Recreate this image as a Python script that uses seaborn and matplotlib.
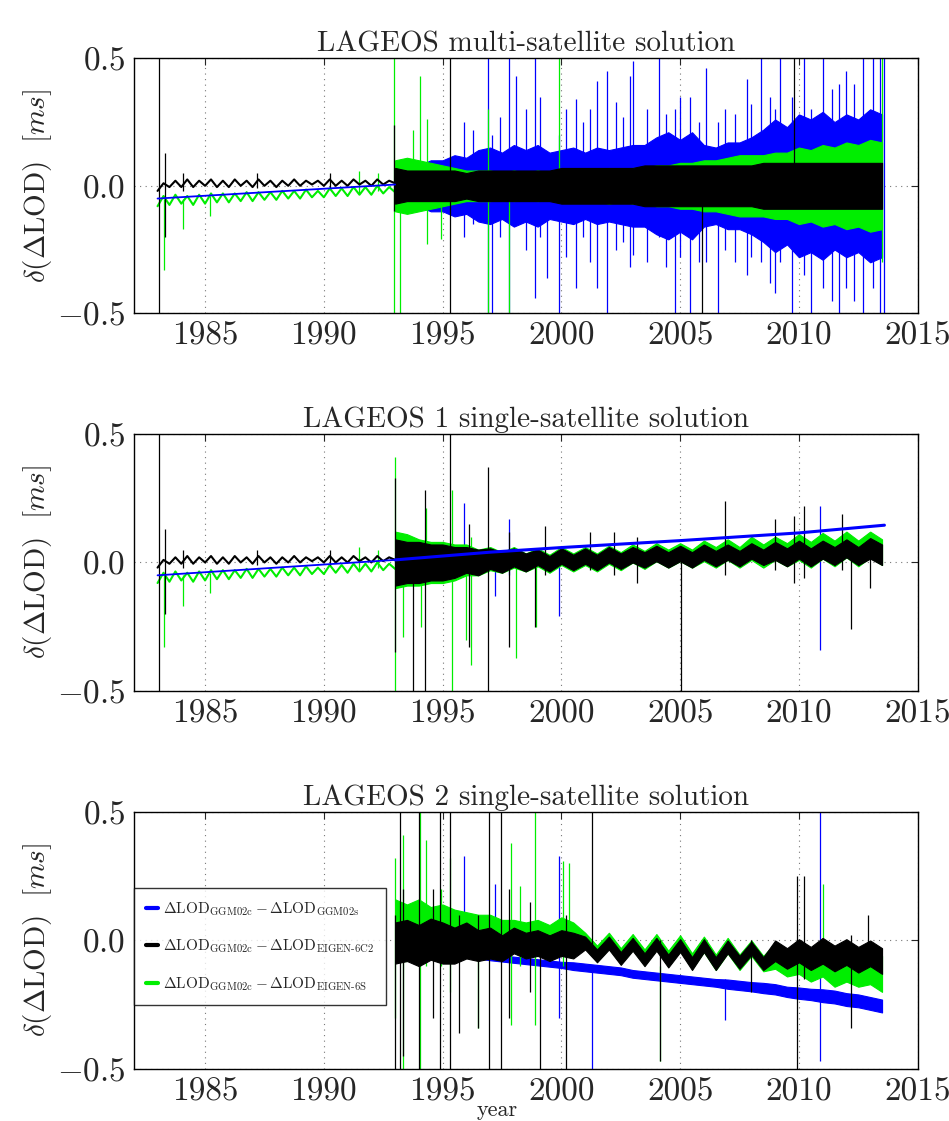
import numpy as np
import seaborn as sns
import matplotlib.pyplot as plt
from matplotlib.lines import Line2D

# ---------------- data ----------------
year_ticks = [1985, 1990, 1995, 2000, 2005, 2010, 2015]
lod_ticks = [-0.5, 0.0, 0.5]
lod_tick_labels = [r"$-0.5$", r"$0.0$", r"$0.5$"]

titles = ["LAGEOS multi-satellite solution",
          "LAGEOS 1 single-satellite solution",
          "LAGEOS 2 single-satellite solution"]

series_labels = [
    r"$\Delta\mathrm{LOD}_{\mathrm{GGM02c}} - \Delta\mathrm{LOD}_{\mathrm{GGM02s}}$",
    r"$\Delta\mathrm{LOD}_{\mathrm{GGM02c}} - \Delta\mathrm{LOD}_{\text{EIGEN-6C2}}$",
    r"$\Delta\mathrm{LOD}_{\mathrm{GGM02c}} - \Delta\mathrm{LOD}_{\text{EIGEN-6S}}$",
]

# 1983-1993 part (LAGEOS 1 only), same in panels 1 and 2
t_early = np.arange(1983.0, 1993.01, 0.25)
early_black = [-0.02, 0.01, -0.005, 0.02, -0.005, 0.025, -0.005, 0.02, 0.0, 0.025,
               -0.005, 0.02, -0.005, 0.025, 0.0, 0.02, -0.005, 0.025, 0.0, 0.02,
               -0.005, 0.02, 0.0, 0.025, 0.0, 0.02, 0.005, 0.02, 0.0, 0.025,
               0.0, 0.02, 0.0, 0.025, 0.005, 0.02, 0.0, 0.025, 0.005, 0.02, 0.01]
early_green = [-0.08, -0.04, -0.075, -0.035, -0.07, -0.04, -0.075, -0.035, -0.07, -0.03,
               -0.065, -0.03, -0.065, -0.03, -0.06, -0.025, -0.06, -0.025, -0.055, -0.025,
               -0.055, -0.02, -0.05, -0.02, -0.05, -0.015, -0.045, -0.02, -0.045, -0.01,
               -0.04, -0.01, -0.04, -0.005, -0.035, -0.005, -0.035, 0.0, -0.03, -0.005, -0.025]
early_black_spikes = [(1983.08, -0.5, 0.5), (1983.3, -0.2, 0.13), (1984.06, -0.02, 0.05),
                      (1987.2, -0.01, 0.05), (1990.25, -0.01, 0.05)]
early_green_spikes = [(1983.25, -0.33, -0.05), (1984.06, -0.17, -0.05), (1985.2, -0.12, -0.04),
                      (1991.5, -0.03, 0.06), (1992.3, -0.02, 0.05)]

# 1993-2013.5 part, half-year grid
t_late = np.arange(1993.0, 2013.51, 0.5)

# panel 1: multi-satellite, all bands centred on zero (half widths)
p1_blue_amp = [0.05, 0.06, 0.08, 0.1, 0.1, 0.12, 0.11, 0.14, 0.15, 0.13, 0.16, 0.14, 0.16, 0.13,
               0.14, 0.15, 0.13, 0.15, 0.14, 0.15, 0.16, 0.16, 0.19, 0.21, 0.18, 0.21, 0.16, 0.15,
               0.17, 0.17, 0.19, 0.22, 0.26, 0.23, 0.28, 0.26, 0.29, 0.25, 0.28, 0.26, 0.3, 0.28]
p1_green_amp = [0.1, 0.11, 0.1, 0.09, 0.08, 0.07, 0.06, 0.06, 0.06, 0.05, 0.06, 0.05, 0.06, 0.05,
                0.06, 0.06, 0.06, 0.06, 0.07, 0.06, 0.07, 0.07, 0.08, 0.08, 0.09, 0.09, 0.1, 0.1,
                0.11, 0.12, 0.12, 0.12, 0.13, 0.13, 0.15, 0.14, 0.16, 0.15, 0.17, 0.16, 0.18, 0.17]
p1_black_amp = [0.07, 0.06, 0.06, 0.06, 0.06, 0.06, 0.05, 0.06, 0.06, 0.06, 0.06, 0.06, 0.06, 0.06,
                0.07, 0.07, 0.07, 0.07, 0.07, 0.07, 0.07, 0.08, 0.08, 0.08, 0.08, 0.08, 0.08, 0.08,
                0.08, 0.08, 0.08, 0.09, 0.09, 0.09, 0.09, 0.09, 0.09, 0.09, 0.09, 0.09, 0.09, 0.09]
p1_blue_trend_t = [1983.0, 1993.0]
p1_blue_trend = [-0.05, 0.005]
p1_blue_spikes = [(1995.9, -0.2, 0.25), (1996.3, -0.15, 0.22), (1996.9, -0.5, 0.5), (1997.1, -0.5, 0.2),
                  (1997.4, -0.2, 0.27), (1997.8, -0.5, 0.5), (1998.1, -0.1, 0.43), (1998.5, -0.25, 0.3),
                  (1998.9, -0.44, 0.5), (1999.1, -0.2, 0.35), (1999.4, -0.36, 0.1), (1999.9, -0.5, 0.2),
                  (2000.2, -0.28, 0.3), (2000.6, -0.4, 0.34), (2000.9, -0.2, 0.25), (2001.2, -0.3, 0.3),
                  (2001.5, -0.4, 0.41), (2001.9, -0.5, 0.45), (2002.3, -0.25, 0.33), (2002.6, -0.22, 0.27),
                  (2002.9, -0.32, 0.43), (2003.0, -0.27, 0.49), (2003.6, -0.3, 0.3), (2004.1, -0.2, 0.5),
                  (2004.4, -0.32, 0.28), (2004.8, -0.5, 0.3), (2005.0, -0.28, 0.35), (2005.4, -0.5, 0.35),
                  (2005.8, -0.3, 0.25), (2006.1, -0.3, 0.46), (2006.6, -0.5, 0.25), (2006.9, -0.25, 0.3),
                  (2007.3, -0.3, 0.28), (2007.8, -0.35, 0.42), (2008.0, -0.28, 0.32), (2008.4, -0.3, 0.5),
                  (2008.8, -0.38, 0.35), (2009.0, -0.42, 0.3), (2009.2, -0.3, 0.5), (2009.7, -0.5, 0.35),
                  (2010.2, -0.35, 0.5), (2010.5, -0.5, 0.3), (2011.0, -0.4, 0.5), (2011.4, -0.45, 0.38),
                  (2011.7, -0.5, 0.4), (2012.0, -0.4, 0.45), (2012.3, -0.45, 0.4), (2012.7, -0.5, 0.5),
                  (2013.1, -0.4, 0.5), (2013.4, -0.5, 0.5), (2013.6, -0.5, 0.5)]
p1_green_spikes = [(1992.94, -0.5, 0.5), (1993.2, -0.5, 0.0), (1993.74, -0.05, 0.22), (1994.04, -0.05, 0.43),
                   (1994.33, -0.23, 0.26), (1994.92, -0.21, 0.05), (1996.9, -0.5, 0.3), (1997.8, -0.5, 0.0),
                   (1999.9, 0.0, 0.5), (2013.5, -0.3, 0.5)]
p1_black_spikes = [(1992.95, -0.1, 0.24), (1995.3, -0.5, 0.5), (2005.9, -0.5, 0.0), (2009.8, 0.0, 0.5)]

# panel 2: LAGEOS 1, band centres and half widths
p2_black_mid = [0.0, 0.0, 0.0, 0.0, 0.0, 0.0, 0.01, 0.0, 0.015, 0.0, 0.02, 0.0, 0.02, -0.005,
                0.025, 0.0, 0.025, 0.0, 0.03, 0.005, 0.03, 0.01, 0.035, 0.01, 0.035, 0.01, 0.04, 0.015,
                0.04, 0.015, 0.045, 0.02, 0.045, 0.02, 0.05, 0.02, 0.05, 0.025, 0.055, 0.025, 0.055, 0.03]
p2_black_amp = [0.09, 0.08, 0.08, 0.07, 0.07, 0.06, 0.05, 0.05, 0.04, 0.04, 0.035, 0.035, 0.03, 0.03,
                0.03, 0.03, 0.03, 0.03, 0.03, 0.03, 0.03, 0.03, 0.03, 0.03, 0.03, 0.03, 0.03, 0.03,
                0.03, 0.03, 0.03, 0.03, 0.035, 0.035, 0.035, 0.035, 0.035, 0.035, 0.035, 0.035, 0.04, 0.04]
p2_green_mid = [0.01, 0.01, 0.0, 0.0, 0.0, 0.0, 0.01, 0.0, 0.015, 0.0, 0.02, 0.0, 0.02, -0.005,
                0.025, 0.0, 0.025, 0.0, 0.03, 0.005, 0.035, 0.01, 0.04, 0.015, 0.04, 0.015, 0.045, 0.02,
                0.05, 0.02, 0.055, 0.025, 0.055, 0.03, 0.06, 0.03, 0.065, 0.035, 0.07, 0.035, 0.07, 0.04]
p2_green_amp = [0.11, 0.1, 0.09, 0.08, 0.08, 0.07, 0.06, 0.05, 0.045, 0.04, 0.04, 0.035, 0.035, 0.035,
                0.035, 0.035, 0.035, 0.035, 0.035, 0.035, 0.035, 0.035, 0.035, 0.035, 0.035, 0.035, 0.04, 0.04,
                0.04, 0.04, 0.045, 0.045, 0.045, 0.045, 0.05, 0.05, 0.05, 0.05, 0.05, 0.05, 0.05, 0.05]
p2_blue_trend_t = [1983.0, 1993.0, 1997.0, 2000.0, 2005.0, 2010.0, 2013.6]
p2_blue_trend = [-0.05, 0.01, 0.04, 0.058, 0.085, 0.115, 0.145]
p2_black_spikes = [(1993.0, -0.35, 0.33), (1993.75, -0.5, 0.05), (1994.25, -0.5, 0.28), (1995.3, -0.05, 0.5),
                   (1996.1, -0.33, 0.15), (1996.9, -0.5, 0.37), (1997.8, -0.33, 0.12), (1998.9, -0.25, 0.05),
                   (1999.3, -0.05, 0.14), (2001.2, -0.03, 0.12), (2002.2, -0.05, 0.12), (2003.2, -0.08, 0.1),
                   (2005.05, -0.5, 0.02), (2006.9, -0.05, 0.24), (2009.0, -0.03, 0.17), (2009.8, -0.08, 0.18),
                   (2010.2, -0.06, 0.22), (2011.8, -0.03, 0.19), (2012.2, -0.26, 0.05), (2013.0, -0.1, 0.05)]
p2_green_spikes = [(1993.0, -0.5, 0.41), (1993.33, -0.29, 0.1), (1994.1, -0.25, 0.05), (1994.3, -0.05, 0.21),
                   (1995.4, -0.5, 0.28), (1996.0, -0.3, 0.05), (1996.2, -0.4, 0.1), (1998.1, -0.37, 0.05),
                   (1998.95, -0.25, 0.05)]
p2_blue_spikes = [(1995.9, -0.05, 0.23), (1997.2, -0.13, 0.05), (1997.8, -0.05, 0.17), (1999.9, -0.21, 0.05),
                  (2010.9, -0.34, 0.22)]

# panel 3: LAGEOS 2 (starts in 1993)
p3_black_mid = [-0.01, 0.0, -0.02, 0.005, -0.01, -0.02, 0.0, -0.02, -0.01, -0.03, 0.0, -0.02, -0.01, -0.03,
                -0.01, -0.02, -0.01, -0.06, -0.01, -0.07, -0.015, -0.075, -0.015, -0.08, -0.02, -0.09, -0.02, -0.09,
                -0.025, -0.085, -0.03, -0.09, -0.04, -0.07, -0.04, -0.07, -0.04, -0.07, -0.045, -0.075, -0.05, -0.08]
p3_black_amp = [0.08, 0.08, 0.08, 0.08, 0.08, 0.07, 0.07, 0.06, 0.06, 0.05, 0.05, 0.05, 0.05, 0.05,
                0.05, 0.05, 0.025, 0.025, 0.025, 0.025, 0.025, 0.025, 0.025, 0.025, 0.025, 0.025, 0.025, 0.025,
                0.025, 0.025, 0.025, 0.025, 0.04, 0.04, 0.045, 0.045, 0.05, 0.05, 0.05, 0.05, 0.05, 0.05]
p3_green_mid = [0.04, 0.03, 0.05, 0.03, 0.04, 0.03, 0.03, 0.02, 0.03, 0.01, 0.02, 0.01, 0.02, 0.0,
                0.02, 0.01, 0.0, -0.05, 0.0, -0.06, -0.005, -0.065, -0.005, -0.07, -0.01, -0.08, -0.015, -0.085,
                -0.02, -0.085, -0.03, -0.09, -0.06, -0.09, -0.07, -0.1, -0.08, -0.11, -0.09, -0.11, -0.1, -0.13]
p3_green_amp = [0.12, 0.11, 0.11, 0.1, 0.1, 0.09, 0.08, 0.08, 0.07, 0.07, 0.06, 0.06, 0.06, 0.06,
                0.07, 0.06, 0.03, 0.03, 0.03, 0.03, 0.03, 0.03, 0.03, 0.03, 0.03, 0.03, 0.03, 0.03,
                0.03, 0.03, 0.03, 0.03, 0.05, 0.05, 0.06, 0.06, 0.06, 0.07, 0.07, 0.07, 0.07, 0.07]
p3_blue_mid = [0.0, -0.01, -0.02, -0.03, -0.04, -0.05, -0.055, -0.06, -0.065, -0.07, -0.075, -0.08, -0.085, -0.09,
               -0.095, -0.1, -0.105, -0.11, -0.115, -0.12, -0.13, -0.135, -0.14, -0.145, -0.15, -0.155, -0.16, -0.165,
               -0.17, -0.175, -0.18, -0.185, -0.19, -0.2, -0.205, -0.21, -0.215, -0.22, -0.23, -0.235, -0.245, -0.255]
p3_blue_amp = [0.01, 0.01, 0.01, 0.01, 0.01, 0.01, 0.01, 0.01, 0.012, 0.012, 0.012, 0.012, 0.012, 0.012,
               0.012, 0.015, 0.015, 0.015, 0.015, 0.015, 0.015, 0.015, 0.015, 0.015, 0.015, 0.015, 0.015, 0.015,
               0.018, 0.018, 0.018, 0.02, 0.02, 0.02, 0.022, 0.022, 0.025, 0.025, 0.025, 0.025, 0.025, 0.025]
p3_black_spikes = [(1993.0, -0.5, 0.1), (1993.2, -0.5, 0.5), (1993.33, -0.45, 0.2), (1994.0, -0.5, 0.5),
                   (1994.6, -0.3, 0.2), (1994.9, -0.5, 0.5), (1995.3, -0.5, 0.5), (1995.7, -0.36, 0.1),
                   (1996.5, -0.34, 0.1), (1996.95, -0.5, 0.5), (1997.45, -0.5, 0.5), (1997.8, -0.3, 0.2),
                   (1998.7, -0.2, 0.15), (1999.1, -0.5, 0.0), (2000.2, -0.5, 0.1), (2001.3, -0.02, 0.5),
                   (2004.15, -0.47, 0.0), (2008.0, -0.2, 0.0), (2009.9, -0.5, 0.25), (2010.2, -0.15, 0.25),
                   (2012.2, -0.34, 0.02), (2012.9, -0.1, 0.1)]
p3_green_spikes = [(1993.0, -0.3, 0.32), (1993.35, -0.5, 0.41), (1994.05, -0.5, 0.5), (1994.3, -0.1, 0.39),
                   (1994.95, -0.1, 0.2), (1995.3, -0.2, 0.32), (1996.5, -0.34, 0.1), (1997.9, -0.33, 0.38),
                   (1998.25, -0.1, 0.21), (1998.9, -0.33, 0.5), (2000.05, -0.1, 0.31), (2000.3, -0.05, 0.3),
                   (2004.15, -0.47, -0.1), (2011.0, -0.1, 0.22)]
p3_blue_spikes = [(1995.9, -0.05, 0.33), (1997.2, -0.05, 0.22), (1999.9, -0.3, 0.33), (2001.3, -0.5, -0.1),
                  (2006.9, -0.31, -0.15), (2010.9, -0.47, 0.5)]

# ---------------- styling ----------------
sns.set_style("white")
plt.rcParams["font.family"] = ["cmr10", "DejaVu Serif"]
plt.rcParams["mathtext.fontset"] = "cm"
plt.rcParams["axes.unicode_minus"] = False

BLUE, BLACK, GREEN = "#0000ff", "#000000", "#00ee00"

fig = plt.figure(figsize=(9.49, 11.21), dpi=100)
axes = [fig.add_axes([0.141, 0.7205, 0.826, 0.2275]),
        fig.add_axes([0.141, 0.3836, 0.826, 0.2293]),
        fig.add_axes([0.141, 0.0464, 0.826, 0.2293])]


def band(ax, mid, amp, color, z):
    mid = np.asarray(mid, dtype=float)
    amp = np.asarray(amp, dtype=float)
    ax.fill_between(t_late, mid - amp, mid + amp, color=color, lw=0.8, zorder=z)


def spikes(ax, spk, color, z):
    xs = [s[0] for s in spk]
    ax.vlines(xs, [s[1] for s in spk], [s[2] for s in spk], colors=color, lw=0.9, zorder=z)


def line(ax, x, y, color, lw, z):
    sns.lineplot(x=x, y=y, color=color, lw=lw, ax=ax, estimator=None, sort=False,
                 legend=False, zorder=z)


# panel 1
ax = axes[0]
band(ax, 0.0, p1_blue_amp, BLUE, 2)
spikes(ax, p1_blue_spikes, BLUE, 2)
band(ax, 0.0, p1_green_amp, GREEN, 3)
spikes(ax, p1_green_spikes, GREEN, 3)
band(ax, 0.0, p1_black_amp, BLACK, 4)
spikes(ax, p1_black_spikes, BLACK, 4)

# panel 2
ax = axes[1]
spikes(ax, p2_blue_spikes, BLUE, 2)
band(ax, p2_green_mid, p2_green_amp, GREEN, 3)
spikes(ax, p2_green_spikes, GREEN, 3)
band(ax, p2_black_mid, p2_black_amp, BLACK, 4)
spikes(ax, p2_black_spikes, BLACK, 4)
line(ax, p2_blue_trend_t[1:], p2_blue_trend[1:], BLUE, 2.2, 5)

# early LAGEOS 1 segment in panels 1 and 2
for ax, trend_t, trend in [(axes[0], p1_blue_trend_t, p1_blue_trend),
                           (axes[1], p2_blue_trend_t[:2], p2_blue_trend[:2])]:
    line(ax, t_early, early_green, GREEN, 1.5, 3)
    spikes(ax, early_green_spikes, GREEN, 3)
    line(ax, t_early, early_black, BLACK, 1.5, 4)
    spikes(ax, early_black_spikes, BLACK, 4)
    line(ax, trend_t, trend, BLUE, 1.3, 5)

# panel 3
ax = axes[2]
band(ax, p3_blue_mid, p3_blue_amp, BLUE, 2)
spikes(ax, p3_blue_spikes, BLUE, 2)
band(ax, p3_green_mid, p3_green_amp, GREEN, 3)
spikes(ax, p3_green_spikes, GREEN, 3)
band(ax, p3_black_mid, p3_black_amp, BLACK, 4)
spikes(ax, p3_black_spikes, BLACK, 4)

for ax, title in zip(axes, titles):
    ax.set_xlim(1982, 2015)
    ax.set_ylim(-0.5, 0.5)
    ax.set_xticks(year_ticks)
    ax.set_xticklabels([str(y) for y in year_ticks], fontsize=24)
    ax.set_yticks(lod_ticks)
    ax.set_yticklabels(lod_tick_labels, fontsize=24)
    ax.tick_params(direction="in", top=True, right=True, length=5, width=0.8, pad=6)
    ax.grid(True, ls=(0, (1, 4)), color="#777777", lw=0.8)
    ax.set_axisbelow(True)
    for s in ax.spines.values():
        s.set_linewidth(1.0)
        s.set_color("black")
        s.set_zorder(10)
    ax.set_title(title, fontsize=21, pad=5)
    ax.set_ylabel(r"$\delta(\Delta\mathrm{LOD})\ \ [ms]$", fontsize=21, labelpad=2)
    ax.set_xlabel("")

axes[2].set_xlabel("year", fontsize=16, va="bottom")
axes[2].xaxis.set_label_coords(0.464, -0.198)

handles = [Line2D([], [], color=c, lw=3) for c in (BLUE, BLACK, GREEN)]
leg = axes[2].legend(handles, series_labels, loc="lower left", bbox_to_anchor=(0.0, 0.25),
                     borderaxespad=0.0, fontsize=11, handlelength=0.8, handletextpad=0.3,
                     labelspacing=1.3, frameon=True, fancybox=False, borderpad=0.8)
leg.get_frame().set_edgecolor("black")
leg.get_frame().set_linewidth(1.0)
leg.set_zorder(20)

fig.savefig("out.png", dpi=100)
